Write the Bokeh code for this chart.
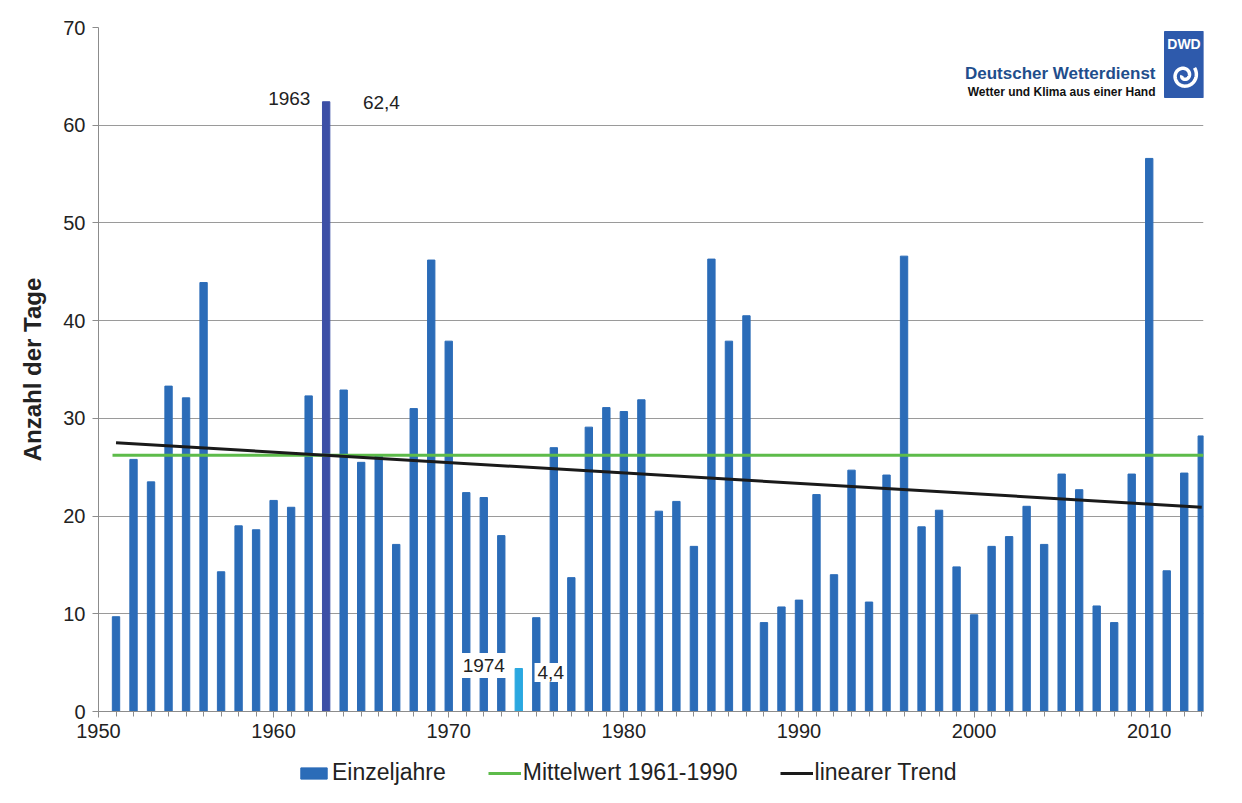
import numpy as np
from bokeh.plotting import figure
from bokeh.layouts import column
from bokeh.models import (Range1d, SingleIntervalTicker, FixedTicker, Legend, LegendItem,
                          Label, ColumnDataSource)
from bokeh.embed import file_html
from bokeh.resources import INLINE

# ---------------- data ----------------
years = list(range(1951, 2014))
days = [9.7, 25.8, 23.5, 33.3, 32.1, 43.9, 14.3, 19.0, 18.6, 21.6,
        20.9, 32.3, 62.4, 32.9, 25.5, 26.3, 17.1, 31.0, 46.2, 37.9,
        22.4, 21.9, 18.0, 4.4, 9.6, 27.0, 13.7, 29.1, 31.1, 30.7,
        31.9, 20.5, 21.5, 16.9, 46.3, 37.9, 40.5, 9.1, 10.7, 11.4,
        22.2, 14.0, 24.7, 11.2, 24.2, 46.6, 18.9, 20.6, 14.8, 9.9,
        16.9, 17.9, 21.0, 17.1, 24.3, 22.7, 10.8, 9.1, 24.3, 56.6,
        14.4, 24.4, 28.2]
max_year = 1963
min_year = 1974
mean_period = (1961, 1990)
trend_years = [1951, 2013]
trend_values = [27.5, 20.9]
x_ticks = [1950, 1960, 1970, 1980, 1990, 2000, 2010]
y_ticks = [0, 10, 20, 30, 40, 50, 60, 70]
series_names = ["Einzeljahre", "Mittelwert 1961-1990", "linearer Trend"]

# ---------------- styles ----------------
BAR = "#2B6CB8"
BAR_MAX = "#3C4FA6"
BAR_MIN = "#2AA8E0"
GREEN = "#5DBB4A"
TREND = "#1a1a1a"
FONT = "Liberation Sans"
W = 1236

colors = [BAR_MAX if y == max_year else BAR_MIN if y == min_year else BAR for y in years]
src = ColumnDataSource(dict(x=years, top=days, color=colors))

X0, X1 = 1950, 2013.1
p = figure(width=W, height=745, x_range=Range1d(X0, X1), y_range=Range1d(0, 70),
           output_backend="svg", toolbar_location=None,
           min_border_left=98, min_border_right=W - 1203, min_border_top=27, min_border_bottom=34)
p.outline_line_color = None
p.background_fill_color = "white"
p.border_fill_color = "white"

bars = p.vbar(x="x", top="top", width=0.42, color="color", source=src)

mean_val = float(np.mean([d for y, d in zip(years, days) if mean_period[0] <= y <= mean_period[1]]))
mean_r = p.line([years[0] - 0.2, X1], [mean_val, mean_val], line_color=GREEN, line_width=3)
trend_r = p.line(trend_years, trend_values, line_color=TREND, line_width=3)

# axes
p.xaxis.ticker = SingleIntervalTicker(interval=10, num_minor_ticks=10)
p.yaxis.ticker = FixedTicker(ticks=y_ticks)
p.xgrid.grid_line_color = None
p.ygrid.grid_line_color = "#9a9a9a"
p.ygrid.grid_line_width = 1
for ax in (p.xaxis, p.yaxis):
    ax.axis_line_color = "#8c8c8c"
    ax.major_tick_line_color = "#8c8c8c"
    ax.minor_tick_line_color = "#8c8c8c"
    ax.major_tick_in = 0
    ax.major_tick_out = 6
    ax.minor_tick_in = 0
    ax.minor_tick_out = 5
    ax.major_label_text_font = FONT
    ax.major_label_text_font_size = "20px"
    ax.major_label_text_color = "#222222"
p.yaxis.minor_tick_line_color = None
p.xaxis.major_label_standoff = 6
p.yaxis.major_label_standoff = 7
p.yaxis.axis_label = "Anzahl der Tage"
p.yaxis.axis_label_text_font = FONT
p.yaxis.axis_label_text_font_style = "bold"
p.yaxis.axis_label_text_font_size = "24px"
p.yaxis.axis_label_text_color = "#222222"
p.yaxis.axis_label_standoff = 14

# annotations for extremes
i_max = years.index(max_year)
i_min = years.index(min_year)
lab_kw = dict(text_font=FONT, text_font_size="19px", text_color="#222222",
              text_baseline="middle", background_fill_color="white")
p.add_layout(Label(x=max_year - 0.9, y=days[i_max] + 0.3, text=str(max_year),
                   text_align="right", **lab_kw))
p.add_layout(Label(x=max_year + 2.1, y=days[i_max] - 0.1, text=f"{days[i_max]:.1f}".replace(".", ","),
                   text_align="left", **lab_kw))
p.add_layout(Label(x=min_year - 0.45, y=days[i_min] + 0.3, text=str(min_year),
                   text_align="right", padding=6, **lab_kw))
p.add_layout(Label(x=min_year + 0.9, y=days[i_min] - 0.4, text=f"{days[i_min]:.1f}".replace(".", ","),
                   text_align="left", padding=3, **lab_kw))

# ---------------- DWD logo (decoration, placed by page pixels) ----------------
PX_L, PX_R, PY_T, PY_B = 98, 1203, 27, 711
def fx(px):
    return X0 + (px - PX_L) * (X1 - X0) / (PX_R - PX_L)
def fy(py):
    return (PY_B - py) * 70.0 / (PY_B - PY_T)

p.add_layout(Label(x=fx(1155), y=fy(73), text="Deutscher Wetterdienst", text_align="right",
                   text_baseline="alphabetic", text_font=FONT, text_font_style="bold",
                   text_font_size="17px", text_color="#1F4E8C"))
p.add_layout(Label(x=fx(1155), y=fy(91), text="Wetter und Klima aus einer Hand", text_align="right",
                   text_baseline="alphabetic", text_font=FONT, text_font_style="bold",
                   text_font_size="12px", text_color="#111111"))
p.quad(left=[fx(1164)], right=[fx(1203)], top=[fy(31)], bottom=[fy(97)],
       fill_color="#2E5AAC", line_color="#2E5AAC")
p.add_layout(Label(x=fx(1183.5), y=fy(43), text="DWD", text_align="center", text_baseline="middle",
                   text_font=FONT, text_font_style="bold", text_font_size="14px", text_color="white"))
th = np.linspace(0, 3.2 * np.pi, 120)
r = 2.0 + 11.0 * th / th[-1]
cx, cy = 1183.5, 75
p.line(fx(cx + r * np.cos(th + np.pi)), fy(cy - r * np.sin(th + np.pi)),
       line_color="white", line_width=3.5)

# ---------------- legend strip below the chart ----------------
lg = figure(width=W, height=55, x_range=Range1d(0, 1), y_range=Range1d(0, 1),
            output_backend="svg", toolbar_location=None,
            min_border_left=0, min_border_right=0, min_border_top=0, min_border_bottom=0)
lg.axis.visible = False
lg.grid.visible = False
lg.outline_line_color = None
lg.border_fill_color = "white"
lg.background_fill_color = "white"
# proxy renderers (outside the visible range) that only supply the legend glyphs
lb = lg.vbar(x=[-5], top=[-5], bottom=[-6], width=0.1, color=BAR)
ll1 = lg.line(x=[-5, -4], y=[-5, -5], line_color=GREEN, line_width=3)
ll2 = lg.line(x=[-5, -4], y=[-5, -5], line_color=TREND, line_width=3)
legend = Legend(items=[LegendItem(label=series_names[0], renderers=[lb]),
                       LegendItem(label=series_names[1], renderers=[ll1]),
                       LegendItem(label=series_names[2], renderers=[ll2])],
                orientation="horizontal", location=(199, 14),
                border_line_color=None, background_fill_alpha=0,
                label_text_font=FONT, label_text_font_size="23px", label_text_color="#222222",
                glyph_width=33, glyph_height=14, label_standoff=2, spacing=42,
                padding=0, margin=0)
lg.add_layout(legend, "center")

open("out.html", "w").write(file_html(column(p, lg, spacing=0), INLINE))
